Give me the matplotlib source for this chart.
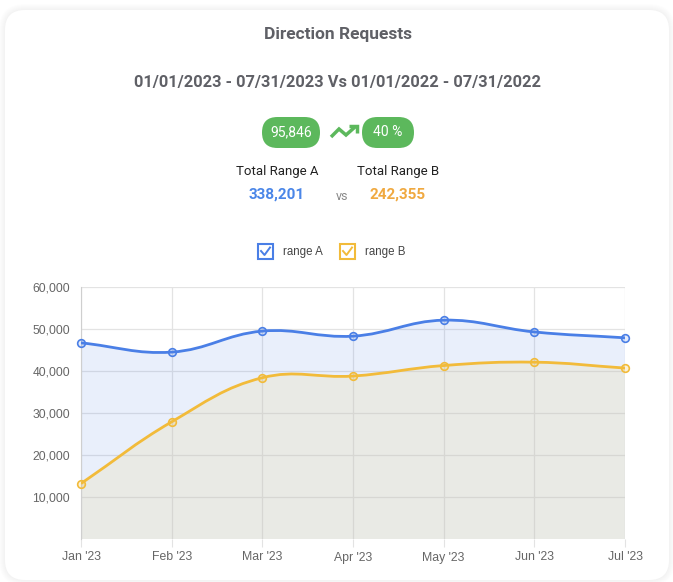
import numpy as np
import matplotlib.pyplot as plt
from matplotlib.path import Path
from matplotlib.patches import PathPatch, FancyBboxPatch, Rectangle
from matplotlib.lines import Line2D
from matplotlib.transforms import Affine2D

months = ["Jan '23", "Feb '23", "Mar '23", "Apr '23", "May '23", "Jun '23", "Jul '23"]
range_a = [46700, 44500, 49500, 48300, 52100, 49300, 47900]
range_b = [13200, 27900, 38400, 38800, 41300, 42100, 40700]
y_ticks = [10000, 20000, 30000, 40000, 50000, 60000]

title = "Direction Requests"
subtitle = "01/01/2023 - 07/31/2023 Vs 01/01/2022 - 07/31/2022"
diff_text = "95,846"
pct_text = "40 %"
total_a = "338,201"
total_b = "242,355"

BLUE = "#4a7fe6"
YELLOW = "#f2bb3a"
GREEN = "#5cb85c"
W, H = 673, 582

fig = plt.figure(figsize=(W / 100, H / 100), dpi=100)
# pixel coords (origin top-left) -> display
px = Affine2D().scale(0.01).scale(1, -1).translate(0, H / 100) + fig.dpi_scale_trans

# card with a soft shadow (behind everything)
for k in range(6, 0, -1):
    sh = FancyBboxPatch((5 - k, 10 - k), 664 + 2 * k, 570 + 2 * k,
                        boxstyle=f"round,pad=0,rounding_size={20 + k}",
                        transform=px, facecolor=(0, 0, 0, 0.007), edgecolor="none", zorder=-6)
    fig.patches.append(sh)
card = FancyBboxPatch((5, 10), 664, 570, boxstyle="round,pad=0,rounding_size=20",
                      transform=px, facecolor="white", edgecolor="none", zorder=-5)
fig.patches.append(card)


def ftext(x, y, s, **kw):
    fig.text(x, y, s, transform=px, ha="center", va="center", **kw)


ftext(338, 35, title, fontsize=12.5, fontweight="bold", color="#5f6066", family="Roboto")
ftext(338, 82, subtitle, fontsize=11.8, fontweight="bold", color="#5f6066", family="Roboto")

# pills
for (x0, w, s) in [(262, 58, diff_text), (362, 52, pct_text)]:
    p = FancyBboxPatch((x0, 117), w, 31, boxstyle="round,pad=0,rounding_size=15.5",
                       transform=px, facecolor=GREEN, edgecolor="none")
    fig.patches.append(p)
    ftext(x0 + w / 2, 132.5, s, fontsize=10, color="white", family="Roboto")

# trending up icon
fig.add_artist(Line2D([331, 339, 346, 355], [137, 129, 135, 127], transform=px,
                      color=GREEN, lw=2.5, solid_capstyle="butt", solid_joinstyle="miter"))
fig.add_artist(Line2D([349, 357, 357], [126, 126, 133], transform=px,
                      color=GREEN, lw=2.5, solid_capstyle="butt", solid_joinstyle="miter"))

ftext(277, 172, "Total Range A", fontsize=9.5, color="#222222", family="Roboto")
ftext(398, 172, "Total Range B", fontsize=9.5, color="#222222", family="Roboto")
ftext(277, 195, total_a, fontsize=11, fontweight="bold", color="#4a86e8", family="Roboto")
ftext(342, 196, "vs", fontsize=9, color="#888888", family="Roboto")
ftext(398, 195, total_b, fontsize=11, fontweight="bold", color="#f0a940", family="Roboto")

# legend
for (bx, col, lab) in [(258, BLUE, "range A"), (340, YELLOW, "range B")]:
    fig.patches.append(Rectangle((bx, 244), 15, 15, transform=px, facecolor="white",
                                 edgecolor=col, lw=1.5))
    fig.add_artist(Line2D([bx + 3, bx + 6.5, bx + 12], [251, 255, 247.5],
                          transform=px, color=col, lw=1.4))
    fig.text(bx + 25, 252, lab, transform=px, ha="left", va="center", fontsize=8.3,
             color="#444444", family="Liberation Sans")

# chart
ax = fig.add_axes([81 / W, 1 - 539 / H, (625 - 81) / W, (539 - 287) / H])
ax.set_xlim(0, len(months) - 1)
ax.set_ylim(0, 60000)

SX = 544 / 6
SY = 252 / 60000


def spline_path(vals, tension=0.4, close=False):
    pts = np.array([[i * SX, v * SY] for i, v in enumerate(vals)])
    n = len(pts)
    cps = []
    for i in range(n):
        prev = pts[max(i - 1, 0)]
        cur = pts[i]
        nxt = pts[min(i + 1, n - 1)]
        d01 = np.hypot(*(cur - prev))
        d12 = np.hypot(*(nxt - cur))
        tot = d01 + d12
        s01 = d01 / tot if tot else 0
        s12 = d12 / tot if tot else 0
        cps.append((cur - tension * s01 * (nxt - prev), cur + tension * s12 * (nxt - prev)))
    verts = [pts[0]]
    codes = [Path.MOVETO]
    for i in range(n - 1):
        verts += [cps[i][1], cps[i + 1][0], pts[i + 1]]
        codes += [Path.CURVE4] * 3
    verts = [(x / SX, y / SY) for x, y in verts]
    if close:
        verts += [(n - 1, 0), (0, 0), (0, 0)]
        codes += [Path.LINETO, Path.LINETO, Path.CLOSEPOLY]
    return Path(verts, codes)


x = np.arange(len(months))
ax.add_patch(PathPatch(spline_path(range_a, close=True), facecolor=(74 / 255, 127 / 255, 230 / 255, 0.12),
                       edgecolor="none", zorder=1))
ax.add_patch(PathPatch(spline_path(range_b, close=True), facecolor=(236 / 255, 220 / 255, 165 / 255, 0.25),
                       edgecolor="none", zorder=1.1))
ax.add_patch(PathPatch(spline_path(range_a), facecolor="none", edgecolor=BLUE, lw=2, zorder=3))
ax.add_patch(PathPatch(spline_path(range_b), facecolor="none", edgecolor=YELLOW, lw=2, zorder=3))
ax.plot(x, range_a, "o", ms=5.5, mfc=(74 / 255, 127 / 255, 230 / 255, 0.15), mec=BLUE, mew=1.2,
        zorder=4, clip_on=False)
ax.plot(x, range_b, "o", ms=5.5, mfc=(242 / 255, 187 / 255, 58 / 255, 0.2), mec=YELLOW, mew=1.2,
        zorder=4, clip_on=False)

ax.set_xticks(x)
ax.set_xticklabels(months)
ax.set_yticks(y_ticks)
ax.set_yticklabels([f"{v:,}" for v in y_ticks])
ax.grid(True, color="#e3e3e3", lw=0.9, zorder=0)
ax.set_axisbelow(True)
ax.set_facecolor("none")
for side in ["top", "right", "bottom"]:
    ax.spines[side].set_visible(False)
ax.spines["left"].set_color("#cfcfcf")
ax.tick_params(axis="x", length=6, color="#e3e3e3", pad=3, labelsize=8.8, labelcolor="#666666")
ax.tick_params(axis="y", length=0, pad=8, labelsize=8.7, labelcolor="#666666")
for lab in ax.get_xticklabels() + ax.get_yticklabels():
    lab.set_family("Liberation Sans")

fig.savefig("out.png", dpi=100)
